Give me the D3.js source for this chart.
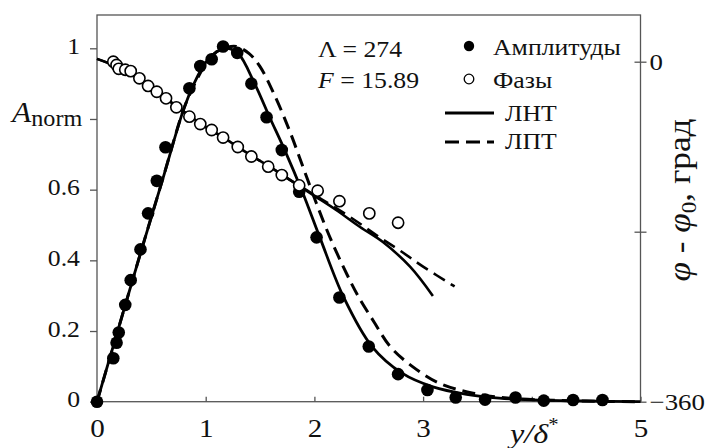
<!DOCTYPE html>
<html>
<head>
<meta charset="utf-8">
<script src="https://cdn.jsdelivr.net/npm/d3@7"></script>
<style>
  body { margin: 0; background: #fff; }
  text { fill: #111; }
</style>
</head>
<body>
<script>
// measured points (filled circles) - amplitudes
var ampX = [0, 0.15, 0.18, 0.20, 0.26, 0.31, 0.40, 0.47, 0.55, 0.63, 0.85, 0.95, 1.055, 1.16, 1.29, 1.42, 1.56, 1.70, 1.86, 2.02, 2.23, 2.50, 2.77, 3.04, 3.30, 3.57, 3.85, 4.11, 4.38, 4.65];
var ampY = [0, 0.123, 0.167, 0.196, 0.274, 0.344, 0.431, 0.533, 0.625, 0.72, 0.887, 0.95, 0.969, 1.005, 0.987, 0.90, 0.805, 0.712, 0.594, 0.465, 0.295, 0.156, 0.078, 0.033, 0.012, 0.006, 0.012, 0.003, 0.005, 0.005];

// measured points (open circles) - phases, degrees
var phaseX = [0.15, 0.18, 0.20, 0.26, 0.31, 0.39, 0.47, 0.55, 0.635, 0.73, 0.85, 0.95, 1.055, 1.16, 1.295, 1.42, 1.575, 1.70, 1.86, 2.03, 2.23, 2.505, 2.77];
var phaseY = [0, -3.5, -7.5, -8.5, -10, -17.6, -25.7, -31.8, -38.8, -48.3, -58.2, -66, -72.3, -80.3, -90.3, -100.4, -111.2, -120, -131, -136.6, -147.7, -160.6, -170.5];

// theory curves: ЛНТ (solid) and ЛПТ (dashed)
var lntAmpX = [0, 0.2, 0.4, 0.6, 0.8, 0.9, 1.0, 1.1, 1.2, 1.3, 1.45, 1.588, 1.727, 1.889, 2.05, 2.27, 2.53, 2.81, 3.09, 3.4, 3.7, 4.0, 4.5, 5.0];
var lntAmpY = [0, 0.21, 0.42, 0.625, 0.83, 0.905, 0.96, 0.99, 1.0, 0.985, 0.9, 0.805, 0.712, 0.594, 0.465, 0.295, 0.156, 0.08, 0.042, 0.021, 0.01, 0.005, 0.002, 0];
var lptAmpX = [0, 0.2, 0.4, 0.6, 0.8, 0.9, 1.0, 1.1, 1.2, 1.28, 1.4, 1.5, 1.64, 1.78, 1.9, 2.02, 2.15, 2.3, 2.4, 2.55, 2.7, 2.9, 3.15, 3.46, 3.8, 4.2, 4.6, 5.0];
var lptAmpY = [0, 0.21, 0.42, 0.625, 0.83, 0.9, 0.955, 0.99, 1.003, 1.005, 0.985, 0.948, 0.863, 0.76, 0.66, 0.56, 0.46, 0.36, 0.3, 0.225, 0.155, 0.1, 0.052, 0.024, 0.01, 0.004, 0.001, 0];

var lntPhaseX = [0, 0.2, 0.4, 0.6, 0.8, 1.0, 1.2, 1.4, 1.6, 1.8, 2.0, 2.2, 2.42, 2.63, 2.88, 3.09];
var lntPhaseY = [3, -6, -19, -36, -53, -69, -83, -98, -112, -127, -142, -157, -175, -191, -217, -248];
var lptPhaseX = [0, 0.2, 0.4, 0.6, 0.8, 1.0, 1.2, 1.4, 1.6, 1.8, 2.0, 2.2, 2.4, 2.6, 2.8, 3.0, 3.29];
var lptPhaseY = [3, -6, -19, -36, -53, -69, -83, -98, -112, -127, -141, -155, -170, -186, -201, -217, -238];

var xTicks = [0, 1, 2, 3, 4, 5];
var aTicks = [0, 0.2, 0.4, 0.6, 0.8, 1];
var phTicks = [0, -180, -360];

var legendNames = ["Амплитуды", "Фазы", "ЛНТ", "ЛПТ"];

var width = 707, height = 448;
var SX = 1.12;   // glyphs in the original are a little wider than Times

var svg = d3.select("body").append("svg")
    .attr("width", width)
    .attr("height", height)
    .style("background-color", "#fff")
    .style("font-family", "'Liberation Serif', serif");

var x = d3.scaleLinear().domain([0, 5]).range([97, 640.5]);
var y = d3.scaleLinear().domain([0, 1]).range([401.7, 48.3]);
var yp = d3.scaleLinear().domain([-360, 0]).range([401.7, 61.7]);

var axisColor = "#555";

// frame
svg.append("rect")
    .attr("x", x(0)).attr("y", 15)
    .attr("width", x(5) - x(0)).attr("height", y(0) - 15)
    .attr("fill", "none").attr("stroke", axisColor).attr("stroke-width", 1.3);

// left axis
var gl = svg.append("g").attr("transform", "translate(" + x(0) + ",0)")
    .call(d3.axisLeft(y).tickValues(aTicks).tickSize(7).tickSizeOuter(0)
        .tickFormat(function(d) { return d === 0.8 ? "" : String(+d.toFixed(1)); }));
gl.attr("font-family", null).attr("font-size", null);
gl.select(".domain").remove();
gl.selectAll(".tick line").attr("stroke", axisColor).attr("stroke-width", 1.3);
gl.selectAll(".tick text")
    .attr("x", null).attr("dy", null)
    .attr("transform", "translate(-17,5) scale(" + SX + ",1)")
    .style("font-size", "23px").attr("fill", "#111");

// bottom axis, ticks point inward
var gb = svg.append("g").attr("transform", "translate(0," + y(0) + ")")
    .call(d3.axisBottom(x).tickValues(xTicks).tickSizeInner(-5).tickSizeOuter(0)
        .tickFormat(function(d) { return d === 4 ? "" : d; }));
gb.attr("font-family", null).attr("font-size", null);
gb.select(".domain").remove();
gb.selectAll(".tick line").attr("stroke", axisColor).attr("stroke-width", 1.3);
gb.selectAll(".tick text")
    .attr("y", null).attr("dy", null)
    .attr("transform", "translate(0,35) scale(" + SX + ",1)")
    .style("font-size", "26px").attr("fill", "#111");

// right axis, ticks cross the line
var gr = svg.append("g").attr("transform", "translate(" + x(5) + ",0)")
    .call(d3.axisRight(yp).tickValues(phTicks).tickSize(6).tickSizeOuter(0)
        .tickFormat(function(d) { return d === 0 ? "0" : d === -360 ? "\u2212360" : ""; }));
gr.attr("font-family", null).attr("font-size", null);
gr.select(".domain").remove();
gr.selectAll(".tick line").attr("x1", -6).attr("stroke", axisColor).attr("stroke-width", 1.3);
gr.selectAll(".tick text")
    .attr("x", null).attr("dy", null)
    .attr("transform", "translate(9,8) scale(" + SX + ",1)")
    .style("font-size", "24px").attr("fill", "#111");

// curves
var ampLine = d3.line().x(function(d) { return x(d[0]); }).y(function(d) { return y(d[1]); })
    .curve(d3.curveCatmullRom.alpha(0.5));
var phLine = d3.line().x(function(d) { return x(d[0]); }).y(function(d) { return yp(d[1]); })
    .curve(d3.curveCatmullRom.alpha(0.5));

function pairs(a, b) { return a.map(function(v, i) { return [v, b[i]]; }); }

svg.append("path").attr("d", ampLine(pairs(lptAmpX, lptAmpY)))
    .attr("fill", "none").attr("stroke", "#000").attr("stroke-width", 3).attr("stroke-dasharray", "13,7");
svg.append("path").attr("d", ampLine(pairs(lntAmpX, lntAmpY)))
    .attr("fill", "none").attr("stroke", "#000").attr("stroke-width", 2.8);
svg.append("path").attr("d", phLine(pairs(lptPhaseX, lptPhaseY)))
    .attr("fill", "none").attr("stroke", "#000").attr("stroke-width", 2.6).attr("stroke-dasharray", "13,7");
svg.append("path").attr("d", phLine(pairs(lntPhaseX, lntPhaseY)))
    .attr("fill", "none").attr("stroke", "#000").attr("stroke-width", 2.6);

// points
svg.append("g").selectAll("circle").data(pairs(ampX, ampY)).join("circle")
    .attr("cx", function(d) { return x(d[0]); })
    .attr("cy", function(d) { return y(d[1]); })
    .attr("r", 6.3).attr("fill", "#000");

svg.append("g").selectAll("circle").data(pairs(phaseX, phaseY)).join("circle")
    .attr("cx", function(d) { return x(d[0]); })
    .attr("cy", function(d) { return yp(d[1]); })
    .attr("r", 5.6).attr("fill", "#fff").attr("stroke", "#000").attr("stroke-width", 1.6);

// text helper: stretched a little horizontally
function label(px, py, size, sx) {
    return svg.append("text")
        .attr("transform", "translate(" + px + "," + py + ") scale(" + (sx || SX) + ",1)")
        .style("font-size", size + "px");
}

// parameters
var t1 = label(318, 57, 23);
t1.append("tspan").text("\u039b = 274");
var t2 = label(318, 88, 23);
t2.append("tspan").style("font-style", "italic").text("F");
t2.append("tspan").text(" = 15.89");

// legend
svg.append("circle").attr("cx", 469).attr("cy", 46).attr("r", 5.2).attr("fill", "#000");
svg.append("circle").attr("cx", 469).attr("cy", 79).attr("r", 4.8).attr("fill", "#fff")
    .attr("stroke", "#000").attr("stroke-width", 1.3);
svg.append("line").attr("x1", 445).attr("x2", 494).attr("y1", 113).attr("y2", 113)
    .attr("stroke", "#000").attr("stroke-width", 3);
svg.append("line").attr("x1", 445).attr("x2", 494).attr("y1", 142).attr("y2", 142)
    .attr("stroke", "#000").attr("stroke-width", 3).attr("stroke-dasharray", "14,7");
label(493, 55, 23).text(legendNames[0]);
label(493, 88, 23).text(legendNames[1]);
label(505, 121, 23).text(legendNames[2]);
label(505, 149, 23).text(legendNames[3]);

// left axis title
var ta = label(12, 122, 30, 1.05);
ta.append("tspan").style("font-style", "italic").text("A");
ta.append("tspan").attr("dy", 4).style("font-size", "23px").text("norm");

// bottom axis title
var tb = label(510, 443, 28, 1.15);
tb.append("tspan").style("font-style", "italic").text("y/\u03b4");
tb.append("tspan").attr("dy", -12).style("font-size", "18px").text("*");

// right axis title, rotated
var tr = svg.append("text")
    .attr("transform", "translate(690,200) rotate(-90) scale(1.1,1)")
    .attr("text-anchor", "middle")
    .style("font-size", "32px");
tr.append("tspan").style("font-style", "italic").text("\u03c6");
tr.append("tspan").text(" - ");
tr.append("tspan").style("font-style", "italic").text("\u03c6");
tr.append("tspan").attr("dy", 6).style("font-size", "21px").text("0");
tr.append("tspan").attr("dy", -6).text(", град");
</script>
</body>
</html>
